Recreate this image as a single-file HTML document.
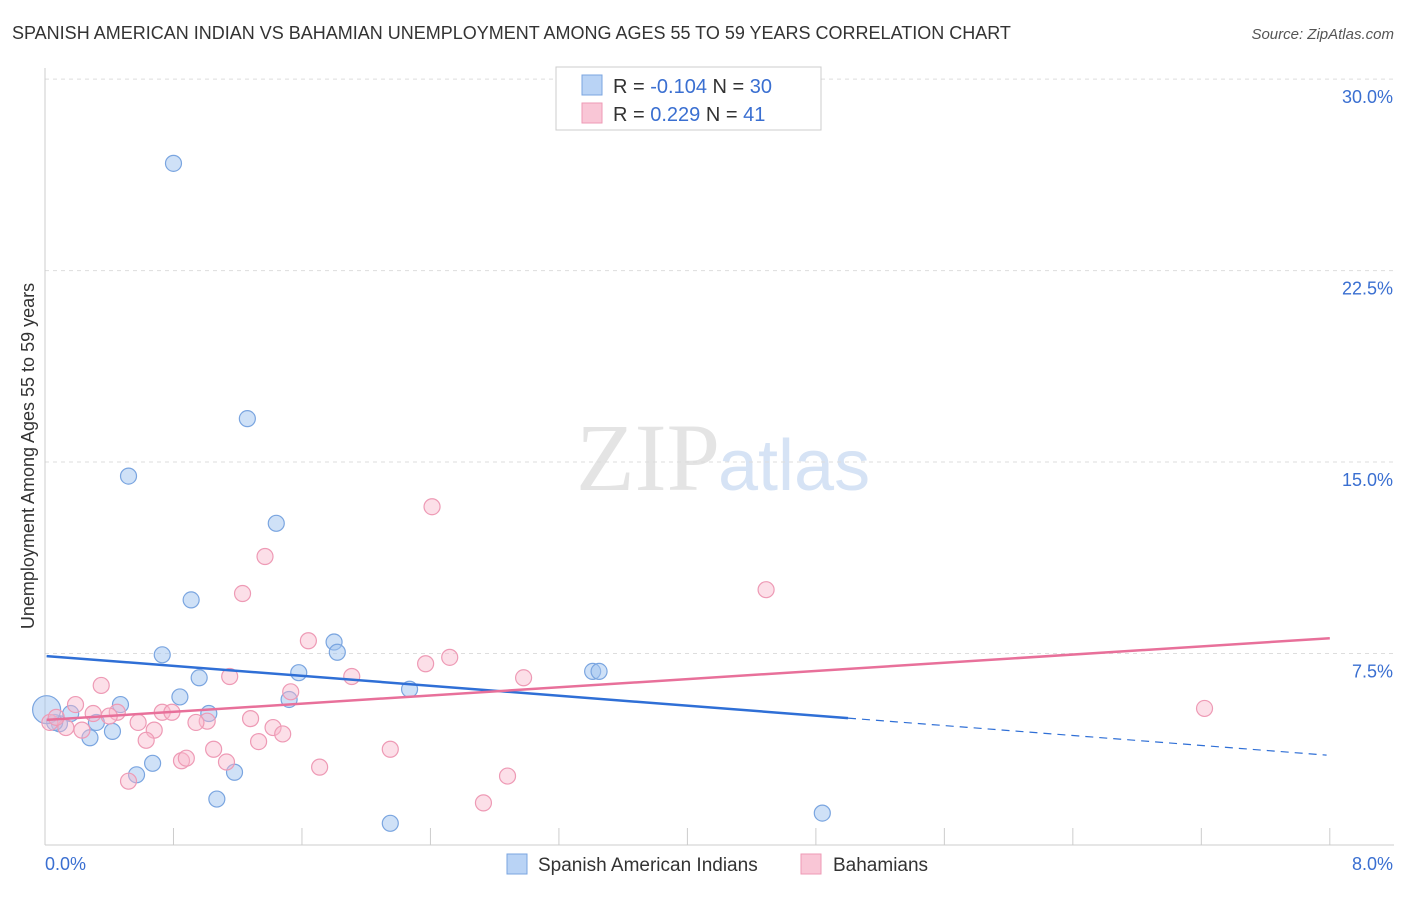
<!DOCTYPE html>
<html><head><meta charset="utf-8"><style>
body{margin:0;background:#fff;font-family:"Liberation Sans",sans-serif;}
</style></head><body>
<svg width="1406" height="892" xmlns="http://www.w3.org/2000/svg" id="chart">
<text x="12" y="39" font-size="18" fill="#333">SPANISH AMERICAN INDIAN VS BAHAMIAN UNEMPLOYMENT AMONG AGES 55 TO 59 YEARS CORRELATION CHART</text>
<text x="1394" y="39" font-size="15" fill="#555" font-style="italic" text-anchor="end">Source: ZipAtlas.com</text>
<text x="720" y="490" font-size="96" fill="#e4e4e4" font-family="Liberation Serif" text-anchor="end">ZIP</text>
<text x="718" y="490" font-size="72" fill="#d6e3f5">atlas</text>
<text transform="translate(34,456) rotate(-90)" font-size="18" fill="#333" text-anchor="middle">Unemployment Among Ages 55 to 59 years</text>
<g id="grid"></g><g id="marks"></g>
<g>
<rect x="556" y="67" width="265" height="63" fill="#fff" stroke="#ccc"/>
<rect x="582" y="75" width="20" height="20" fill="#b9d3f5" stroke="#7aa5e0"/>
<rect x="582" y="103" width="20" height="20" fill="#f9c6d6" stroke="#ee9ab5"/>
<text x="613" y="93" font-size="20" fill="#333">R = <tspan fill="#3a6fd1">-0.104</tspan>   N = <tspan fill="#3a6fd1">30</tspan></text>
<text x="613" y="121" font-size="20" fill="#333">R =  <tspan fill="#3a6fd1"> 0.229</tspan>   N =  <tspan fill="#3a6fd1">41</tspan></text>
</g>
<g>
<rect x="507" y="854" width="20" height="20" fill="#b9d3f5" stroke="#7aa5e0"/>
<text x="538" y="871" font-size="19" fill="#333">Spanish American Indians</text>
<rect x="801" y="854" width="20" height="20" fill="#f9c6d6" stroke="#ee9ab5"/>
<text x="833" y="871" font-size="19" fill="#333">Bahamians</text>
</g>
</svg>
<script>
const xTicks=[0,1,2,3,4,5,6,7,8];
const yTicks=[7.5,15,22.5,30];
const yTickLabels=["7.5%","15.0%","22.5%","30.0%"];
const blueX=[0.8,1.26,0.52,1.44,0.91,0.73,1.8,1.82,1.58,0.96,0.84,0.47,1.52,2.27,3.41,3.45,1.02,0.16,0.09,0.32,0.28,0.42,0.67,0.57,1.18,1.07,2.15,4.84,0.06,0.01];
const blueY=[26.7,16.7,14.45,12.6,9.6,7.45,7.95,7.55,6.75,6.55,5.8,5.5,5.7,6.1,6.8,6.8,5.15,5.15,4.75,4.8,4.2,4.45,3.2,2.75,2.85,1.8,0.85,1.25,4.8,5.3];
const pinkX=[2.41,1.37,4.49,1.23,1.64,2.52,2.37,1.15,1.91,2.98,0.35,1.53,7.22,0.19,0.45,0.30,0.73,0.79,1.28,1.01,0.94,0.58,0.03,0.13,0.23,0.68,1.42,1.48,0.63,1.33,1.05,2.15,1.13,0.85,0.88,1.71,0.52,2.88,2.73,0.07,0.4];
const pinkY=[13.25,11.3,10.0,9.85,8.0,7.35,7.1,6.6,6.6,6.55,6.25,6.0,5.35,5.5,5.2,5.15,5.2,5.2,4.95,4.85,4.8,4.8,4.8,4.6,4.5,4.5,4.6,4.35,4.1,4.05,3.75,3.75,3.25,3.3,3.4,3.05,2.5,2.7,1.65,5.0,5.05];
const blueTrend=[7.4,4.97,3.52]; // at x=0, 5.0, 8
const pinkTrend=[4.9,8.1]; // at x=0, 8
const NS="http://www.w3.org/2000/svg";
const sx=v=>45+v*160.6, sy=v=>845-v*25.53;
function mk(t,a,p){const e=document.createElementNS(NS,t);for(const k in a)e.setAttribute(k,a[k]);p.appendChild(e);return e;}
const g=document.getElementById('grid'), m=document.getElementById('marks');
yTicks.forEach((t,i)=>{
 const l=mk('line',{x1:45,x2:1394,y1:sy(t),y2:sy(t),stroke:'#ddd','stroke-dasharray':'4,4'},g);
 
 
 const tx=mk('text',{x:1393,y:sy(t)+24,'font-size':18,fill:'#3a6fd1','text-anchor':'end'},g);tx.textContent=yTickLabels[i];
 
 
});
const ax=mk('line',{x1:45,x2:1394,y1:845,y2:845,stroke:'#ccc'},g);


const ay=mk('line',{x1:45,x2:45,y1:68,y2:845,stroke:'#ccc'},g);


for(let v=0;v<=8;v+=0.8){const t=mk('line',{x1:sx(v),x2:sx(v),y1:828,y2:845,stroke:'#ccc'},g);
 
 }
const x0=mk('text',{x:45,y:870,'font-size':18,fill:'#3a6fd1'},g);x0.textContent='0.0%';


const x8=mk('text',{x:1393,y:870,'font-size':18,fill:'#3a6fd1','text-anchor':'end'},g);x8.textContent='8.0%';


blueX.forEach((v,i)=>{const c=mk('circle',{cx:sx(v),cy:sy(blueY[i]),r:i==blueX.length-1?14:8,fill:'rgba(160,195,240,0.5)',stroke:'#7aa5e0','stroke-width':1.2},m);
 
 });
pinkX.forEach((v,i)=>{const c=mk('circle',{cx:sx(v),cy:sy(pinkY[i]),r:8,fill:'rgba(248,185,205,0.45)',stroke:'#ee9ab5','stroke-width':1.2},m);
 
 });
const b1=mk('line',{x1:sx(0.01),y1:sy(blueTrend[0]),x2:sx(5),y2:sy(blueTrend[1]),stroke:'#2f6fd6','stroke-width':2.5},m);


const b2=mk('line',{x1:sx(5),y1:sy(blueTrend[1]),x2:sx(7.98),y2:sy(blueTrend[2]),stroke:'#2f6fd6','stroke-width':1.2,'stroke-dasharray':'8,6'},m);


const p1=mk('line',{x1:sx(0.01),y1:sy(pinkTrend[0]),x2:sx(8),y2:sy(pinkTrend[1]),stroke:'#e8709a','stroke-width':2.5},m);


</script>
</body></html>
